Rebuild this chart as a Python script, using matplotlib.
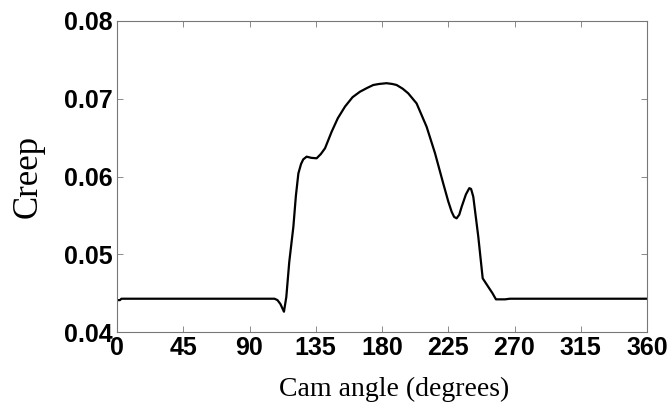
import matplotlib
matplotlib.use("Agg")
import matplotlib.pyplot as plt

# values
angle = [0, 2, 3, 60, 100, 107, 109, 111, 113.4, 115, 117, 119.8, 121.5, 123.2,
         125, 126.5, 128.8, 132, 135.6, 138.5, 141.3, 145.8, 150, 154.9, 160,
         165.0, 170, 174.1, 178, 183.1, 187, 189.9, 194, 197.8, 203.5, 210.3,
         216.0, 221.6, 225, 227.3, 229, 230.7, 232.5, 234.1, 237, 239.3, 240.5,
         242.0, 245.4, 248.4, 252.2, 255, 257.4, 263.5, 266.9, 300, 360]
creep = [0.0441, 0.0441, 0.04428, 0.04428, 0.04428, 0.04428, 0.0441, 0.0436,
         0.04261, 0.0445, 0.0490, 0.05354, 0.0575, 0.0604, 0.0616, 0.0622,
         0.06255, 0.0624, 0.06234, 0.0629, 0.06363, 0.06576, 0.0675, 0.0690,
         0.0702, 0.0709, 0.0714, 0.07177, 0.0719, 0.0720, 0.0719, 0.07177,
         0.0713, 0.0707, 0.0694, 0.0664, 0.0630, 0.0591, 0.0568, 0.05547,
         0.0548, 0.05462, 0.0551, 0.0561, 0.0577, 0.0585, 0.0584, 0.0574,
         0.05226, 0.0469, 0.0458, 0.0450, 0.0442, 0.0442, 0.04428, 0.04428,
         0.04428]

xticks = [0, 45, 90, 135, 180, 225, 270, 315, 360]
yticks = [0.04, 0.05, 0.06, 0.07, 0.08]

fig = plt.figure(figsize=(6.68, 4.05), dpi=100)
ax = fig.add_axes([117 / 668, 1 - 332 / 405, 530 / 668, 311 / 405])

ax.plot(angle, creep, color="black", linewidth=1.6)

ax.set_xlim(0, 360)
ax.set_ylim(0.04, 0.08)
ax.set_xticks(xticks)
ax.set_yticks(yticks)
ax.set_xticklabels([str(t) for t in xticks])
ax.set_yticklabels(["%.2f" % t for t in yticks])

for lab in ax.get_xticklabels() + ax.get_yticklabels():
    lab.set_fontfamily("Liberation Sans")
    lab.set_fontweight("bold")
    lab.set_fontsize(18)

ax.tick_params(direction="in", length=4, width=0.6, color="#777777",
               top=True, right=True, pad=3)
for s in ax.spines.values():
    s.set_color("#777777")
    s.set_linewidth(0.8)

ax.set_xlabel("Cam angle (degrees)", family="Liberation Serif", fontsize=20)
ax.xaxis.set_label_coords(0.523, -0.145)
ax.set_ylabel("Creep", family="Liberation Serif", fontsize=25, labelpad=14)

fig.savefig("out.png", dpi=100)
